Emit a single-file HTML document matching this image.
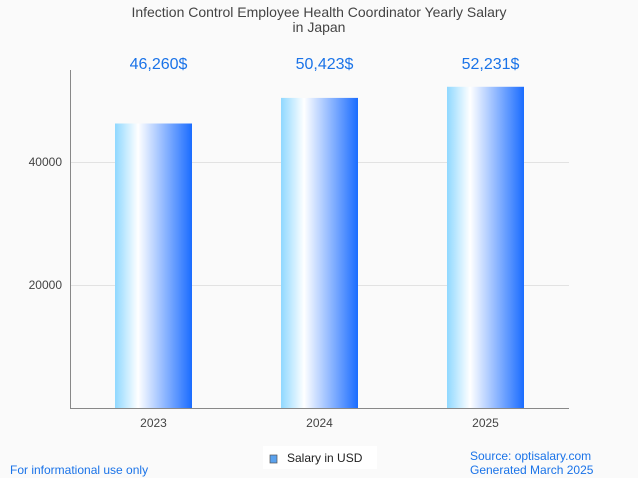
<!DOCTYPE html>
<html><head><meta charset="utf-8"><style>
body{margin:0;background:#fafafa;font-family:"Liberation Sans",sans-serif;}
svg{display:block}
</style></head><body>
<svg width="638" height="478" xmlns="http://www.w3.org/2000/svg">
<defs>
<linearGradient id="bg" x1="0" x2="1" y1="0" y2="0">
<stop offset="0" stop-color="#8fd8ff"/><stop offset="0.3" stop-color="#ffffff"/><stop offset="1" stop-color="#1a6cff"/>
</linearGradient>
</defs>
<rect width="638" height="478" fill="#fafafa"/>
<text x="319" y="17" text-anchor="middle" font-size="14" fill="#444">Infection Control Employee Health Coordinator Yearly Salary</text>
<text x="319" y="32" text-anchor="middle" font-size="14" fill="#444">in Japan</text>
<g id="grid"></g>
<g id="bars"></g>
<line x1="70.5" y1="70" x2="70.5" y2="408" stroke="#888"/>
<line x1="70" y1="408.5" x2="569" y2="408.5" stroke="#888"/>
<rect x="263" y="446" width="114" height="23" fill="#fff"/>
<rect x="270" y="455" width="7" height="8" fill="#5aa2ee" stroke="#555" stroke-width="0.7"/>
<text x="287" y="462" font-size="12" fill="#222">Salary in USD</text>
<text x="10" y="474" font-size="12" fill="#1a73e8">For informational use only</text>
<text x="470" y="460" font-size="12" fill="#1a73e8">Source: optisalary.com</text>
<text x="470" y="474" font-size="12" fill="#1a73e8">Generated March 2025</text>
</svg>
<script>
const categories=["2023","2024","2025"];
const values=[46260,50423,52231];
const valueLabels=["46,260$","50,423$","52,231$"];
const yTicks=[20000,40000];
const NS="http://www.w3.org/2000/svg";
const y0=408,pxPer=123/20000;
function yScale(v){return y0-v*pxPer;}
function xCenter(i){return 153.5+i*166;}
const grid=document.getElementById('grid'),bars=document.getElementById('bars');
yTicks.forEach(t=>{
 const l=document.createElementNS(NS,'line');
 l.setAttribute('x1',70);l.setAttribute('x2',569);
 l.setAttribute('y1',yScale(t)+0.5);l.setAttribute('y2',yScale(t)+0.5);
 l.setAttribute('stroke','#e2e2e2');
 
 
 grid.appendChild(l);
 const tx=document.createElementNS(NS,'text');
 tx.setAttribute('x',62);tx.setAttribute('y',yScale(t)+4);
 tx.setAttribute('text-anchor','end');tx.setAttribute('font-size','12');tx.setAttribute('fill','#444');
 tx.textContent=t;
 
 
 grid.appendChild(tx);
});
values.forEach((v,i)=>{
 const cx=xCenter(i);
 const r=document.createElementNS(NS,'rect');
 r.setAttribute('x',cx-38.5);r.setAttribute('width',77);
 r.setAttribute('y',yScale(v));r.setAttribute('height',y0-yScale(v));
 r.setAttribute('fill','url(#bg)');
 
 
 bars.appendChild(r);
 const lb=document.createElementNS(NS,'text');
 lb.setAttribute('x',cx+5);lb.setAttribute('y',69);
 lb.setAttribute('text-anchor','middle');lb.setAttribute('font-size','16');lb.setAttribute('fill','#1a73e8');
 lb.textContent=valueLabels[i];
 
 
 bars.appendChild(lb);
 const xl=document.createElementNS(NS,'text');
 xl.setAttribute('x',cx);xl.setAttribute('y',427);
 xl.setAttribute('text-anchor','middle');xl.setAttribute('font-size','12');xl.setAttribute('fill','#444');
 xl.textContent=categories[i];
 
 
 bars.appendChild(xl);
});
</script>
</body></html>
